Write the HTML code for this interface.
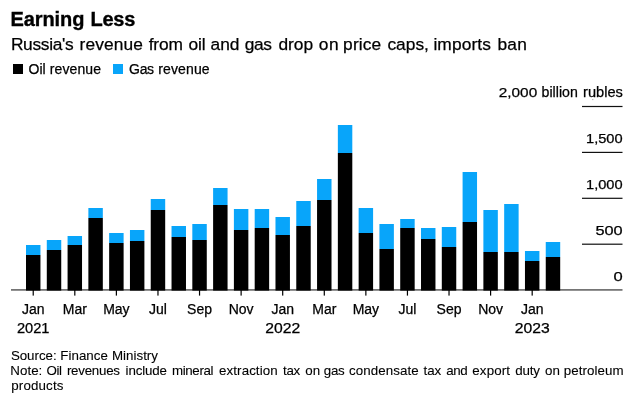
<!DOCTYPE html>
<html><head><meta charset="utf-8"><title>Earning Less</title>
<style>
html,body{margin:0;padding:0;background:#fff;}
body{width:640px;height:406px;position:relative;overflow:hidden;font-family:"Liberation Sans",Arial,Helvetica,sans-serif;color:#000;}
.ln{position:absolute;left:0;width:640px;white-space:nowrap;-webkit-text-stroke:0.25px #000;}
.ln span{position:absolute;top:0;white-space:nowrap;}
#title{top:6.6px;font-size:20px;font-weight:bold;line-height:24px;height:24px;-webkit-text-stroke:0.35px #000;}
#sub{top:33.5px;font-size:17.33px;line-height:20px;height:20px;}
.leg{top:60px;font-size:14px;line-height:18px;height:18px;}
.sq{position:absolute;width:10px;height:10px;top:64px;}
.src{font-size:13.33px;line-height:15px;height:15px;-webkit-text-stroke:0.1px #000;}
svg{position:absolute;left:0;top:0;}
svg text.ax{font-family:"Liberation Sans",Arial,Helvetica,sans-serif;font-size:14px;fill:#000;stroke:#000;stroke-width:0.25px;}
</style></head><body>
<div class="ln" id="title"><span style="left:10.5px;letter-spacing:-0.089px">Earning</span> <span style="left:90.4px;letter-spacing:-0.204px">Less</span></div>
<div class="ln" id="sub"><span style="left:10.9px;letter-spacing:-0.311px">Russia's</span> <span style="left:79.6px;letter-spacing:0.103px">revenue</span> <span style="left:148.7px;letter-spacing:-0.141px">from</span> <span style="left:188.4px;letter-spacing:-0.043px">oil</span> <span style="left:210.6px;letter-spacing:-0.087px">and</span> <span style="left:244.71px;letter-spacing:-0.35px">gas</span> <span style="left:278.4px;letter-spacing:0.018px">drop</span> <span style="left:318.83px;letter-spacing:0.5px">on</span> <span style="left:343.1px;letter-spacing:0.145px">price</span> <span style="left:387.4px;letter-spacing:0.024px">caps,</span> <span style="left:433.4px;letter-spacing:0.118px">imports</span> <span style="left:497.4px;letter-spacing:0.288px">ban</span></div>
<div class="sq" style="left:13px;background:#000"></div>
<div class="ln leg"><span style="left:28.6px;letter-spacing:-0.05px">Oil</span> <span style="left:49.7px;letter-spacing:0.124px">revenue</span></div>
<div class="sq" style="left:113px;background:#08a5fa"></div>
<div class="ln leg"><span style="left:129.1px;letter-spacing:-0.338px">Gas</span> <span style="left:158.3px;letter-spacing:0.116px">revenue</span></div>
<svg width="640" height="406" viewBox="0 0 640 406">
<rect x="11" y="289.1" width="611.5" height="1.6" fill="#666"/>
<rect x="26.00" y="245" width="14.45" height="10" fill="#08a5fa"/>
<rect x="26.00" y="255" width="14.45" height="35.60" fill="#000"/>
<rect x="46.79" y="240" width="14.45" height="10" fill="#08a5fa"/>
<rect x="46.79" y="250" width="14.45" height="40.60" fill="#000"/>
<rect x="67.58" y="236" width="14.45" height="9" fill="#08a5fa"/>
<rect x="67.58" y="245" width="14.45" height="45.60" fill="#000"/>
<rect x="88.37" y="208" width="14.45" height="10" fill="#08a5fa"/>
<rect x="88.37" y="218" width="14.45" height="72.60" fill="#000"/>
<rect x="109.16" y="233" width="14.45" height="10" fill="#08a5fa"/>
<rect x="109.16" y="243" width="14.45" height="47.60" fill="#000"/>
<rect x="129.95" y="230" width="14.45" height="11" fill="#08a5fa"/>
<rect x="129.95" y="241" width="14.45" height="49.60" fill="#000"/>
<rect x="150.74" y="199" width="14.45" height="11" fill="#08a5fa"/>
<rect x="150.74" y="210" width="14.45" height="80.60" fill="#000"/>
<rect x="171.53" y="226" width="14.45" height="11" fill="#08a5fa"/>
<rect x="171.53" y="237" width="14.45" height="53.60" fill="#000"/>
<rect x="192.32" y="224" width="14.45" height="16" fill="#08a5fa"/>
<rect x="192.32" y="240" width="14.45" height="50.60" fill="#000"/>
<rect x="213.11" y="188" width="14.45" height="17" fill="#08a5fa"/>
<rect x="213.11" y="205" width="14.45" height="85.60" fill="#000"/>
<rect x="233.90" y="209" width="14.45" height="21" fill="#08a5fa"/>
<rect x="233.90" y="230" width="14.45" height="60.60" fill="#000"/>
<rect x="254.69" y="209" width="14.45" height="19" fill="#08a5fa"/>
<rect x="254.69" y="228" width="14.45" height="62.60" fill="#000"/>
<rect x="275.48" y="217" width="14.45" height="18" fill="#08a5fa"/>
<rect x="275.48" y="235" width="14.45" height="55.60" fill="#000"/>
<rect x="296.27" y="201" width="14.45" height="25" fill="#08a5fa"/>
<rect x="296.27" y="226" width="14.45" height="64.60" fill="#000"/>
<rect x="317.06" y="179" width="14.45" height="21" fill="#08a5fa"/>
<rect x="317.06" y="200" width="14.45" height="90.60" fill="#000"/>
<rect x="337.85" y="125" width="14.45" height="28" fill="#08a5fa"/>
<rect x="337.85" y="153" width="14.45" height="137.60" fill="#000"/>
<rect x="358.64" y="208" width="14.45" height="25" fill="#08a5fa"/>
<rect x="358.64" y="233" width="14.45" height="57.60" fill="#000"/>
<rect x="379.43" y="224" width="14.45" height="25" fill="#08a5fa"/>
<rect x="379.43" y="249" width="14.45" height="41.60" fill="#000"/>
<rect x="400.22" y="219" width="14.45" height="9" fill="#08a5fa"/>
<rect x="400.22" y="228" width="14.45" height="62.60" fill="#000"/>
<rect x="421.01" y="228" width="14.45" height="11" fill="#08a5fa"/>
<rect x="421.01" y="239" width="14.45" height="51.60" fill="#000"/>
<rect x="441.80" y="227" width="14.45" height="20" fill="#08a5fa"/>
<rect x="441.80" y="247" width="14.45" height="43.60" fill="#000"/>
<rect x="462.59" y="172" width="14.45" height="50" fill="#08a5fa"/>
<rect x="462.59" y="222" width="14.45" height="68.60" fill="#000"/>
<rect x="483.38" y="210" width="14.45" height="42" fill="#08a5fa"/>
<rect x="483.38" y="252" width="14.45" height="38.60" fill="#000"/>
<rect x="504.17" y="204" width="14.45" height="48" fill="#08a5fa"/>
<rect x="504.17" y="252" width="14.45" height="38.60" fill="#000"/>
<rect x="524.96" y="251" width="14.45" height="10" fill="#08a5fa"/>
<rect x="524.96" y="261" width="14.45" height="29.60" fill="#000"/>
<rect x="545.75" y="242" width="14.45" height="15" fill="#08a5fa"/>
<rect x="545.75" y="257" width="14.45" height="33.60" fill="#000"/>
<rect x="32.62" y="290" width="1.2" height="5.6" fill="#000"/>
<text x="33.23" y="314" text-anchor="middle" class="ax">Jan</text>
<text x="33.23" y="332.6" text-anchor="middle" class="ax" textLength="32.6" lengthAdjust="spacingAndGlyphs">2021</text>
<rect x="74.21" y="290" width="1.2" height="5.6" fill="#000"/>
<text x="74.81" y="314" text-anchor="middle" class="ax">Mar</text>
<rect x="115.78" y="290" width="1.2" height="5.6" fill="#000"/>
<text x="116.38" y="314" text-anchor="middle" class="ax">May</text>
<rect x="157.37" y="290" width="1.2" height="5.6" fill="#000"/>
<text x="157.97" y="314" text-anchor="middle" class="ax">Jul</text>
<rect x="198.94" y="290" width="1.2" height="5.6" fill="#000"/>
<text x="199.54" y="314" text-anchor="middle" class="ax">Sep</text>
<rect x="240.52" y="290" width="1.2" height="5.6" fill="#000"/>
<text x="241.12" y="314" text-anchor="middle" class="ax">Nov</text>
<rect x="282.10" y="290" width="1.2" height="5.6" fill="#000"/>
<text x="282.70" y="314" text-anchor="middle" class="ax">Jan</text>
<text x="282.70" y="332.6" text-anchor="middle" class="ax" textLength="35" lengthAdjust="spacingAndGlyphs">2022</text>
<rect x="323.69" y="290" width="1.2" height="5.6" fill="#000"/>
<text x="324.29" y="314" text-anchor="middle" class="ax">Mar</text>
<rect x="365.26" y="290" width="1.2" height="5.6" fill="#000"/>
<text x="365.87" y="314" text-anchor="middle" class="ax">May</text>
<rect x="406.84" y="290" width="1.2" height="5.6" fill="#000"/>
<text x="407.44" y="314" text-anchor="middle" class="ax">Jul</text>
<rect x="448.42" y="290" width="1.2" height="5.6" fill="#000"/>
<text x="449.02" y="314" text-anchor="middle" class="ax">Sep</text>
<rect x="490.00" y="290" width="1.2" height="5.6" fill="#000"/>
<text x="490.61" y="314" text-anchor="middle" class="ax">Nov</text>
<rect x="531.58" y="290" width="1.2" height="5.6" fill="#000"/>
<text x="532.18" y="314" text-anchor="middle" class="ax">Jan</text>
<text x="532.18" y="332.6" text-anchor="middle" class="ax" textLength="35" lengthAdjust="spacingAndGlyphs">2023</text>
<rect x="582" y="151.8" width="40.5" height="1.2" fill="#111"/>
<text x="622.6" y="143.3" text-anchor="end" class="ax" style="font-size:13.4px" textLength="36.6" lengthAdjust="spacingAndGlyphs">1,500</text>
<rect x="582" y="197.70000000000002" width="40.5" height="1.2" fill="#111"/>
<text x="622.6" y="189.20000000000002" text-anchor="end" class="ax" style="font-size:13.4px" textLength="36.6" lengthAdjust="spacingAndGlyphs">1,000</text>
<rect x="582" y="243.6" width="40.5" height="1.2" fill="#111"/>
<text x="622.6" y="235.1" text-anchor="end" class="ax" style="font-size:13.4px" textLength="27.2" lengthAdjust="spacingAndGlyphs">500</text>
<rect x="582" y="105.9" width="40.5" height="1.2" fill="#111"/>
<text x="498.8" y="97.4" class="ax" style="font-size:13.4px" textLength="38.4" lengthAdjust="spacingAndGlyphs">2,000</text>
<text x="541.6" y="97.3" class="ax" textLength="36.2" lengthAdjust="spacingAndGlyphs">billion</text>
<text x="622.9" y="97.3" text-anchor="end" class="ax" textLength="39.8" lengthAdjust="spacingAndGlyphs">rubles</text>
<text x="622.6" y="280.6" text-anchor="end" class="ax" style="font-size:13.4px" textLength="9.2" lengthAdjust="spacingAndGlyphs">0</text>
<rect x="592.3" y="99.2" width="1" height="0.9" fill="#888"/>
</svg>
<div class="ln src" style="top:348px"><span style="left:10.9px;letter-spacing:-0.038px">Source:</span> <span style="left:60.25px;letter-spacing:0.041px">Finance</span> <span style="left:112.0px;letter-spacing:0.008px">Ministry</span></div>
<div class="ln src" style="top:362.6px"><span style="left:10.25px;letter-spacing:0.049px">Note:</span> <span style="left:46.39px;letter-spacing:-0.35px">Oil</span> <span style="left:66.9px;letter-spacing:-0.252px">revenues</span> <span style="left:125.6px;letter-spacing:-0.137px">include</span> <span style="left:171.93px;letter-spacing:-0.35px">mineral</span> <span style="left:219.1px;letter-spacing:0.081px">extraction</span> <span style="left:283.1px;letter-spacing:-0.308px">tax</span> <span style="left:305.3px;letter-spacing:-0.012px">on</span> <span style="left:323.84px;letter-spacing:-0.35px">gas</span> <span style="left:349.1px;letter-spacing:0.066px">condensate</span> <span style="left:423.4px;letter-spacing:0.042px">tax</span> <span style="left:446.24px;letter-spacing:-0.35px">and</span> <span style="left:472.3px;letter-spacing:0.132px">export</span> <span style="left:515.2px;letter-spacing:-0.143px">duty</span> <span style="left:545.0px;letter-spacing:-0.012px">on</span> <span style="left:563.75px;letter-spacing:0.073px">petroleum</span></div>
<div class="ln src" style="top:377.7px"><span style="left:11.25px;letter-spacing:0.149px">products</span></div>
</body></html>
